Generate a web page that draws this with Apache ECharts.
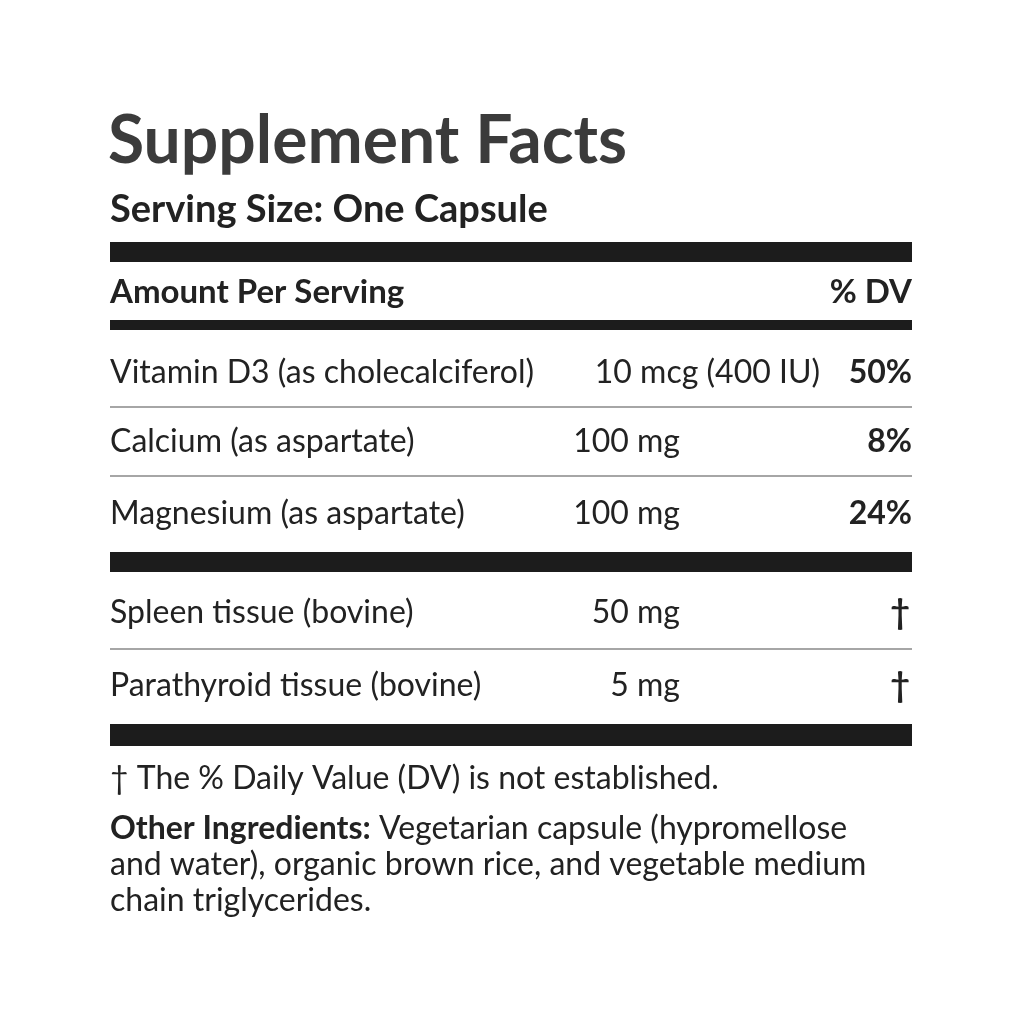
<!DOCTYPE html>
<html>
<head>
<meta charset="utf-8">
<script src="https://cdn.jsdelivr.net/npm/echarts@6/dist/echarts.min.js"></script>
<style>
html,body{margin:0;padding:0;background:#fff;}
#label{width:1024px;height:1024px;}
</style>
</head>
<body>
<div id="label"></div>
<script>
// label content
var title = "Supplement Facts";
var servingSize = "Serving Size: One Capsule";
var headerLeft = "Amount Per Serving";
var headerRight = "% DV";
var nutrientNames = ["Vitamin D3 (as cholecalciferol)", "Calcium (as aspartate)", "Magnesium (as aspartate)"];
var nutrientAmounts = ["10 mcg (400 IU)", "100 mg", "100 mg"];
var nutrientDV = ["50%", "8%", "24%"];
var otherNames = ["Spleen tissue (bovine)", "Parathyroid tissue (bovine)"];
var otherAmounts = ["50 mg", "5 mg"];
var otherDV = ["\u2020", "\u2020"];
var footnote = "\u2020 The % Daily Value (DV) is not established.";
var ingredientsLabel = "Other Ingredients:";
var ingredientsLines = [" Vegetarian capsule (hypromellose", "and water), organic brown rice, and vegetable medium", "chain triglycerides."];

var chart = echarts.init(document.getElementById('label'));
var L = 110, R = 912, FONT = 'Lato, "Open Sans", sans-serif';
var BODY = 32;
var els = [];

var txt = function(x, y, s, size, weight, align, color) {
	els.push({
		type: 'text', x: x, y: y,
		style: {
			text: s, fontSize: size, fontWeight: weight || 'normal', fontFamily: FONT,
			fill: color || '#222', align: align || 'left', verticalAlign: 'middle'
		}
	});
};
var bar = function(y, h) {
	els.push({ type: 'rect', shape: { x: L, y: y, width: R - L, height: h }, style: { fill: '#1c1c1c' } });
};

txt(L - 2, 142, title, 66, 'bold', 'left', '#3b3b3b');
txt(L, 210, servingSize, 38, 'bold');
bar(242, 20);
txt(L, 292, headerLeft, 33, 'bold');
txt(R, 292, headerRight, 33, 'bold', 'right');
bar(320, 10);

var rowY1 = [373, 442, 514];
var amountX1 = [820, 680, 680];
for (var i = 0; i < nutrientNames.length; i++) {
	txt(L, rowY1[i], nutrientNames[i], BODY, 'normal');
	txt(amountX1[i], rowY1[i], nutrientAmounts[i], BODY, 'normal', 'right');
	txt(R, rowY1[i], nutrientDV[i], BODY, 'bold', 'right');
	if (i < nutrientNames.length - 1) {
		els.push({ type: 'line', shape: { x1: L, y1: rowY1[i] + 34, x2: R, y2: rowY1[i] + 34 }, style: { stroke: '#888', lineWidth: 1.5 } });
	}
}
bar(552, 20);

var rowY2 = [613, 686];
for (var j = 0; j < otherNames.length; j++) {
	txt(L, rowY2[j], otherNames[j], BODY, 'normal');
	txt(680, rowY2[j], otherAmounts[j], BODY, 'normal', 'right');
	txt(R - 2, rowY2[j], otherDV[j], 34, 'bold', 'right');
}
els.push({ type: 'line', shape: { x1: L, y1: 649, x2: R, y2: 649 }, style: { stroke: '#888', lineWidth: 1.5 } });
bar(724, 22);

txt(L, 779, footnote, BODY, 'normal');
els.push({
	type: 'text', x: L, y: 829,
	style: {
		text: '{b|' + ingredientsLabel + '}{n|' + ingredientsLines[0] + '}',
		verticalAlign: 'middle', fontFamily: FONT,
		rich: {
			b: { fontSize: BODY, fontWeight: 'bold', fontFamily: FONT, fill: '#222' },
			n: { fontSize: BODY, fontFamily: FONT, fill: '#222' }
		}
	}
});
for (var k = 1; k < ingredientsLines.length; k++) {
	txt(L, 829 + k * 36, ingredientsLines[k], BODY, 'normal');
}

chart.setOption({ backgroundColor: '#fff', graphic: { elements: els } });
</script>
</body>
</html>
